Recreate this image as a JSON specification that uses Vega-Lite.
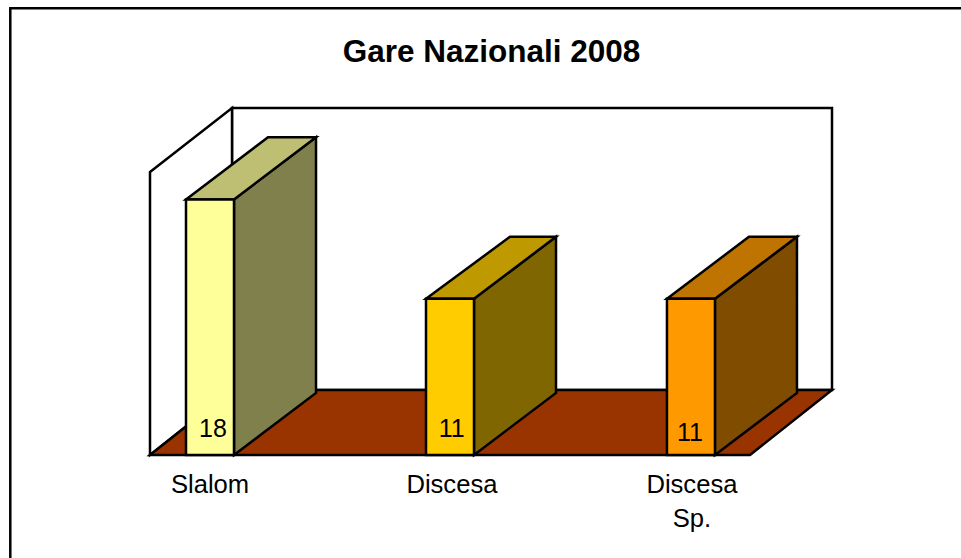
{
"$schema":"https://vega.github.io/schema/vega-lite/v6.json",
"width":961,"height":558,"padding":0,"autosize":{"type":"none"},
"background":"white",
"config":{"view":{"stroke":null},"font":"Liberation Sans"},
"title":{"text":"Gare Nazionali 2008","font":"Liberation Sans","fontSize":31.5,"fontWeight":"bold","color":"#000000","anchor":"middle","offset":-68,"dx":11},
"encoding":{
"x":{"field":"x","type":"quantitative","stack":null,"axis":null,"scale":{"domain":[0.125,4.12917],"nice":false,"zero":false}},
"y":{"field":"y","type":"quantitative","stack":null,"axis":null,"scale":{"domain":[-7.254,32.042],"nice":false,"zero":false}}
},
"layer":[
{"data":{"values":[{"x":0.1679,"x2":4.4,"y":31.46,"y2":-10}]},
 "mark":{"type":"rect","fill":"white","stroke":"black","strokeWidth":2.5},
 "encoding":{"x2":{"field":"x2"},"y2":{"field":"y2"}}},
{"data":{"values":[{"x":1.0917,"x2":3.5917,"y":24.44,"y2":4.58}]},
 "mark":{"type":"rect","fill":"white","stroke":"black","strokeWidth":2.5},
 "encoding":{"x2":{"field":"x2"},"y2":{"field":"y2"}}},
{"data":{"values":[{"x":0.75,"y":19.93,"y2":0},{"x":1.0917,"y":24.44,"y2":4.58}]},
 "mark":{"type":"area","fill":"white","stroke":"black","strokeWidth":2.5,"orient":"vertical"},
 "encoding":{"y2":{"field":"y2"}}},
{"data":{"values":[{"y":0,"x":0.75,"x2":3.25},{"y":4.58,"x":1.0917,"x2":3.5917}]},
 "mark":{"type":"area","fill":"#993300","stroke":"black","strokeWidth":2.5,"orient":"horizontal"},
 "encoding":{"x2":{"field":"x2"}}},
{"data":{"values":[
 {"face":"Slalom side","x":1.1,"y":18,"y2":0},{"face":"Slalom side","x":1.4417,"y":22.37,"y2":4.37},
 {"face":"Discesa side","x":2.1,"y":11,"y2":0},{"face":"Discesa side","x":2.4417,"y":15.37,"y2":4.37},
 {"face":"Discesa Sp. side","x":3.104,"y":11,"y2":0},{"face":"Discesa Sp. side","x":3.4457,"y":15.37,"y2":4.37}]},
 "mark":{"type":"area","stroke":"black","strokeWidth":2.5,"orient":"vertical"},
 "encoding":{"y2":{"field":"y2"},"color":{"field":"face","type":"nominal","legend":null,"scale":{"domain":["Slalom side","Discesa side","Discesa Sp. side","Slalom top","Discesa top","Discesa Sp. top","Slalom front","Discesa front","Discesa Sp. front"],"range":["#80804D","#806600","#804D00","#BFBF73","#BF9900","#BF7300","#FFFF99","#FFCC00","#FF9900"]}}}},
{"data":{"values":[
 {"face":"Slalom top","y":18,"x":0.9,"x2":1.1},{"face":"Slalom top","y":22.37,"x":1.2417,"x2":1.4417},
 {"face":"Discesa top","y":11,"x":1.9,"x2":2.1},{"face":"Discesa top","y":15.37,"x":2.25,"x2":2.4417},
 {"face":"Discesa Sp. top","y":11,"x":2.904,"x2":3.104},{"face":"Discesa Sp. top","y":15.37,"x":3.2457,"x2":3.4457}]},
 "mark":{"type":"area","stroke":"black","strokeWidth":2.5,"orient":"horizontal"},
 "encoding":{"x2":{"field":"x2"},"color":{"field":"face","type":"nominal","legend":null}}},
{"data":{"values":[
 {"face":"Slalom front","name":"Slalom","x":0.9,"x2":1.1,"y":18,"y2":0},
 {"face":"Discesa front","name":"Discesa","x":1.9,"x2":2.1,"y":11,"y2":0},
 {"face":"Discesa Sp. front","name":"Discesa Sp.","x":2.904,"x2":3.104,"y":11,"y2":0}]},
 "mark":{"type":"rect","stroke":"black","strokeWidth":2.5},
 "encoding":{"x2":{"field":"x2"},"y2":{"field":"y2"},"color":{"field":"face","type":"nominal","legend":null}}},
{"data":{"values":[
 {"label":"18","x":1.0125,"y":1.268},
 {"label":"11","x":2.0067,"y":1.268},
 {"label":"11","x":3.0,"y":0.986}]},
 "mark":{"type":"text","font":"Liberation Sans","fontSize":25,"color":"#000000","align":"center","baseline":"alphabetic"},
 "encoding":{"text":{"field":"label","type":"nominal"}}},
{"data":{"values":[
 {"label":"Slalom","x":1.0,"y":-2.676},
 {"label":"Discesa","x":2.008,"y":-2.676},
 {"label":"Discesa","x":3.008,"y":-2.676},
 {"label":"Sp.","x":3.008,"y":-5.07}]},
 "mark":{"type":"text","font":"Liberation Sans","fontSize":25.6,"color":"#000000","align":"center","baseline":"alphabetic"},
 "encoding":{"text":{"field":"label","type":"nominal"}}}
]
}
